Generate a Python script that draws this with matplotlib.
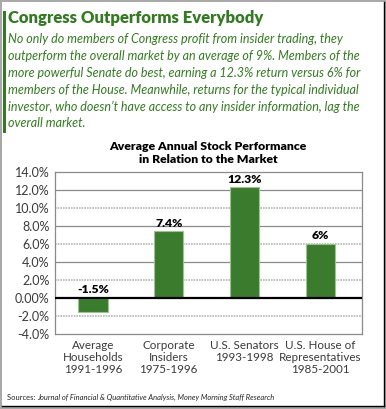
import matplotlib
matplotlib.use("Agg")
import matplotlib.pyplot as plt
from matplotlib.patches import Rectangle

categories = ["Average\nHouseholds\n1991-1996", "Corporate\nInsiders\n1975-1996",
              "U.S. Senators\n1993-1998", "U.S. House of\nRepresentatives\n1985-2001"]
values = [-1.5, 7.4, 12.3, 6.0]
value_labels = ["-1.5%", "7.4%", "12.3%", "6%"]
yticks = [-4, -2, 0, 2, 4, 6, 8, 10, 12, 14]
ytick_labels = ["-4.0%", "-2.0%", "0.00%", "2.0%", "4.0%", "6.0%", "8.0%", "10.0%", "12.0%", "14.0%"]

title = "Congress Outperforms Everybody"
para = ["No only do members of Congress profit from insider trading, they",
        "outperform the overall market by an average of 9%. Members of the",
        "more powerful Senate do best, earning a 12.3% return versus 6% for",
        "members of the House. Meanwhile, returns for the typical individual",
        "investor, who doesn\u2019t have access to any insider information, lag the",
        "overall market."]
chart_title = "Average Annual Stock Performance\nin Relation to the Market"

W, H = 386, 409
GREEN = "#347a22"
BAR = "#3b7b2e"

fig = plt.figure(figsize=(W / 100, H / 100), dpi=100)
fig.patch.set_facecolor("#a9a9a9")

def px(x, y):
    return x / W, 1 - y / H

# white panel
fig.patches.append(Rectangle(px(2, 406), 382 / W, 404 / H, transform=fig.transFigure,
                             facecolor="white", edgecolor="none", zorder=-5))
fig.add_artist(plt.Line2D([384 / W, 384 / W], [1 - 2 / H, 1 - 406 / H], color="black", lw=1.0, transform=fig.transFigure))
fig.add_artist(plt.Line2D([2 / W, 384 / W], [1 - 406 / H, 1 - 406 / H], color="black", lw=1.0, transform=fig.transFigure))
# green side bar
fig.patches.append(Rectangle(px(3, 133), 3 / W, 122 / H, transform=fig.transFigure,
                             facecolor=GREEN, edgecolor="none", zorder=-4))

fig.text(*px(8, 18), title, fontsize=12, fontweight="heavy", color=GREEN,
         family="Lato", va="center", ha="left")
for i, line in enumerate(para):
    fig.text(*px(8, 39 + i * 16.9), line, fontsize=9.0, style="italic", color=GREEN,
             family="Lato", va="center", ha="left")

fig.text(*px(208, 153), chart_title, fontsize=8.8, fontweight="heavy", color="black",
         family="Lato", va="center", ha="center", linespacing=1.25)

ax = fig.add_axes([55 / W, 1 - 334 / H, 307 / W, 162 / H])
ax.set_zorder(2)
x = list(range(len(values)))
ax.bar(x, values, width=0.39, color=BAR, edgecolor="#9cc48f", linewidth=0.8, zorder=3)
ax.set_xlim(-0.5, 3.55)
ax.set_ylim(-4, 14)
ax.set_yticks(yticks)
ax.set_yticklabels(ytick_labels)
ax.set_xticks(x)
ax.set_xticklabels(categories)
for t in ax.get_xticklabels():
    t.set_linespacing(1.12)
ax.tick_params(axis="both", length=0, colors="#3a3a3a", pad=4)
for lab in ax.get_yticklabels():
    lab.set_family("Lato")
    lab.set_fontsize(9)
for lab in ax.get_xticklabels():
    lab.set_family("Lato")
    lab.set_fontsize(8.4)
for s in ax.spines.values():
    s.set_color("#8a8a8a")
    s.set_linewidth(0.9)
for yv in yticks:
    if yv in (-4, 14, 0):
        continue
    if yv in (4, 8, 12):
        ax.axhline(yv, color="#8a8a8a", lw=0.9, zorder=1)
    else:
        ax.axhline(yv, color="#b5b5b5", lw=1.2, ls=(0, (1, 0.6)), zorder=1)
ax.axhline(0, color="black", lw=1.6, zorder=4)
for xi, v, lab in zip(x, values, value_labels):
    ytxt = max(v, 0) + 0.3
    ax.text(xi, ytxt, lab, ha="center", va="bottom", fontsize=8.8, fontweight="heavy",
            family="Lato", color="black", zorder=5)

fig.text(*px(7, 397), "Sources: ", fontsize=5.4, family="Lato", color="#222222", va="center", ha="left")
fig.text(*px(37, 397), "Journal of Financial & Quantitative Analysis, Money Morning Staff Research",
         fontsize=5.4, family="Lato", style="italic", color="#222222", va="center", ha="left")

fig.savefig("out.png", dpi=100, facecolor=fig.get_facecolor())
